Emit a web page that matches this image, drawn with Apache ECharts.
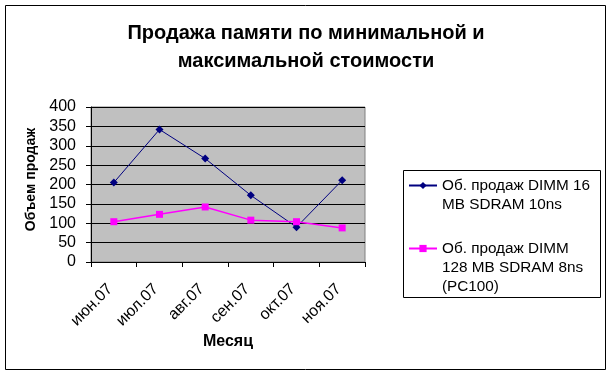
<!DOCTYPE html>
<html><head><meta charset="utf-8">
<script src="https://cdn.jsdelivr.net/npm/echarts@6/dist/echarts.min.js"></script>
<style>html,body{margin:0;padding:0;background:#fff}#c{width:612px;height:375px}</style>
</head><body><div id="c"></div>
<script>
const categories = ['июн.07','июл.07','авг.07','сен.07','окт.07','ноя.07'];
const seriesNames = ['Об. продаж DIMM 16 MB SDRAM 10ns','Об. продаж DIMM 128 MB SDRAM 8ns (PC100)'];
const legendLabels = [' \nОб. продаж DIMM 16\nMB SDRAM 10ns',' \n \nОб. продаж DIMM\n128 MB SDRAM 8ns\n(PC100)'];
const dimm16 = [205, 342, 267, 172, 90, 211];
const dimm128 = [104, 123, 142, 108, 104, 88];
const yTicks = {min:0, max:400, interval:50};
const F = 'Arial, "Liberation Sans", sans-serif';
const chart = echarts.init(document.getElementById('c'), null, {renderer:'canvas'});
const legendText = {fontFamily:F, fontSize:15.3, color:'#000', lineHeight:19};
function fmt(n){return legendLabels[seriesNames.indexOf(n)];}
chart.setOption({
  animation:false,
  backgroundColor:'#fff',
  title:{text:'Продажа памяти по минимальной и\nмаксимальной стоимости', left:'center', top:14,
    textStyle:{fontFamily:F, fontSize:20, fontWeight:'bold', color:'#000', lineHeight:28}},
  graphic:[
    {type:'rect', shape:{x:5.5,y:5.5,width:600,height:364}, style:{fill:null, stroke:'#000', lineWidth:1}, silent:true},
    {type:'rect', shape:{x:403.5,y:170.5,width:197,height:127}, style:{fill:null, stroke:'#000', lineWidth:1}, silent:true}
  ],
  grid:{left:91, right:247, top:107, bottom:113, show:true, backgroundColor:'#C0C0C0', borderColor:'#808080', borderWidth:1},
  legend:[
    {orient:'vertical', left:408, top:157, padding:0, itemWidth:28, itemHeight:9,
      textStyle:legendText, data:[seriesNames[0]], formatter:fmt},
    {orient:'vertical', left:408, top:201, padding:0, itemWidth:28, itemHeight:9,
      textStyle:legendText, data:[seriesNames[1]], formatter:fmt}
  ],
  xAxis:{type:'category', data:categories, boundaryGap:true,
    name:'Месяц', nameLocation:'middle', nameGap:72,
    nameTextStyle:{fontFamily:F, fontSize:16, fontWeight:'bold', color:'#000'},
    axisLine:{lineStyle:{color:'#000', width:1}},
    axisTick:{show:true, length:5, interval:0, lineStyle:{color:'#000'}},
    axisLabel:{rotate:45, interval:0, margin:21, padding:[0,5,0,0], fontFamily:F, fontSize:16, color:'#000'}},
  yAxis:{type:'value', min:yTicks.min, max:yTicks.max, interval:yTicks.interval,
    name:'Объем продаж', nameLocation:'middle', nameGap:53, nameRotate:90,
    nameTextStyle:{fontFamily:F, fontSize:14, fontWeight:'bold', color:'#000', padding:[0,0,0,10]},
    axisLine:{show:true, lineStyle:{color:'#000', width:1}},
    axisTick:{show:true, length:5, lineStyle:{color:'#000'}},
    splitLine:{show:true, lineStyle:{color:'#000', width:1}},
    axisLabel:{margin:15, fontFamily:F, fontSize:16, color:'#000'}},
  series:[
    {name:seriesNames[0], type:'line', data:dimm16, symbol:'diamond', symbolSize:8,
      itemStyle:{color:'#000080'}, lineStyle:{color:'#000080', width:1}},
    {name:seriesNames[1], type:'line', data:dimm128, symbol:'rect', symbolSize:7,
      itemStyle:{color:'#FF00FF'}, lineStyle:{color:'#FF00FF', width:1.5}}
  ]
});
</script></body></html>
